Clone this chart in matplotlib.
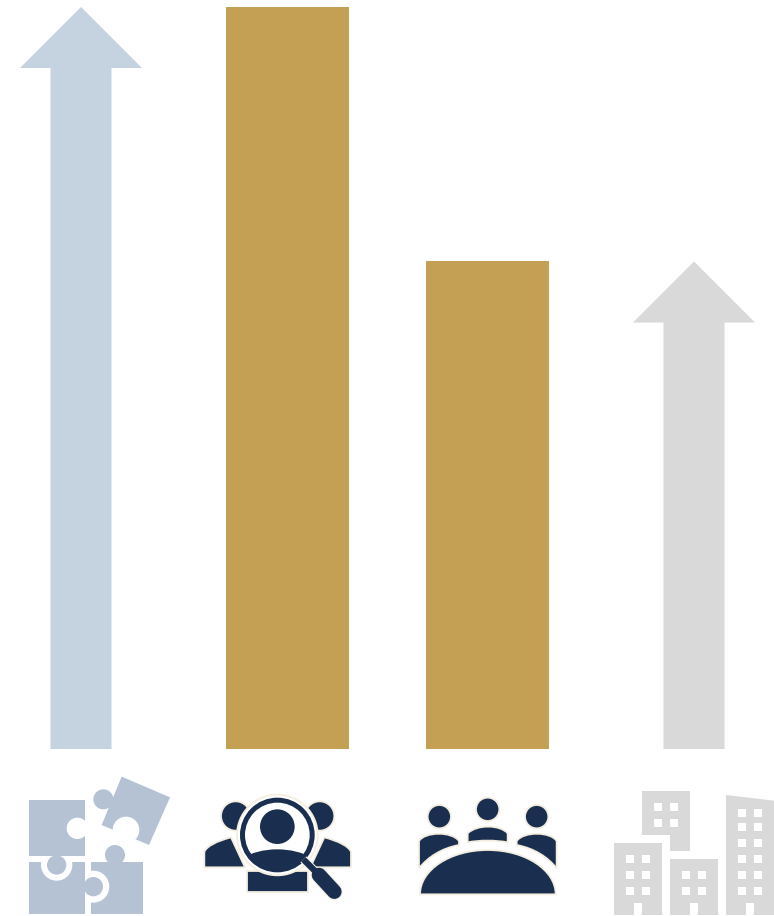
import matplotlib
matplotlib.use("Agg")
import matplotlib.pyplot as plt
from matplotlib.patches import Polygon, Circle, PathPatch, Rectangle, Ellipse
from matplotlib.path import Path
from matplotlib.transforms import Affine2D

W, H = 774, 916

# Chart values, as a share of the tallest column
categories = ["Integration", "Research", "Meetings", "Organisations"]
values = [100, 100, 65.8, 65.7]
kinds = ["arrow", "bar", "bar", "arrow"]
centers = [81, 287.5, 487.5, 694]
colors = ["#C5D2E0", "#C4A055", "#C4A055", "#D9D9D9"]

BAR_W = 123
SHAFT_W = 61
HEAD_W = 122
HEAD_H = 61 / 7.42  # head length in value units

NAVY = "#1A2F4F"
CREAM = "#F4EEE0"
SLATE = "#B4C2D3"
GREY = "#D9D9D9"

fig = plt.figure(figsize=(W / 100, H / 100), dpi=100, facecolor="white")

# Columns and arrows share one value axis
ax = fig.add_axes([0, (H - 749) / H, 1, 742 / H])
ax.set_xlim(0, W)
ax.set_ylim(0, 100)
ax.axis("off")

for c, v, k, col in zip(centers, values, kinds, colors):
    if k == "bar":
        ax.bar(c, v, width=BAR_W, color=col, linewidth=0, clip_on=False)
    else:
        ax.add_patch(Polygon(
            [(c - SHAFT_W / 2, 0), (c - SHAFT_W / 2, v - HEAD_H),
             (c - HEAD_W / 2, v - HEAD_H), (c, v),
             (c + HEAD_W / 2, v - HEAD_H), (c + SHAFT_W / 2, v - HEAD_H),
             (c + SHAFT_W / 2, 0)],
            closed=True, facecolor=col, edgecolor="none", clip_on=False))

# Icon layer: each pictogram is drawn in its own local grid of 3 units per pixel
icons = fig.add_axes([0, 0, 1, 1], zorder=3)
icons.set_xlim(0, W)
icons.set_ylim(H, 0)
icons.axis("off")


def grid(ox, oy):
    return Affine2D().scale(1 / 3).translate(ox, oy) + icons.transData


def rect(tr, x0, y0, x1, y1, color, **kw):
    icons.add_patch(Rectangle((x0, y0), x1 - x0, y1 - y0, facecolor=color,
                              edgecolor="none", transform=tr, clip_on=False, **kw))


def disc(tr, x, y, r, color, edge="none", lw=0):
    p = Circle((x, y), r, facecolor=color, edgecolor=edge, linewidth=lw,
               transform=tr, clip_on=False)
    icons.add_patch(p)
    return p


def shape(tr, verts, codes, color=NAVY, edge=CREAM, lw=1.3):
    p = PathPatch(Path(verts, codes), facecolor=color, edgecolor=edge, linewidth=lw,
                  transform=tr, clip_on=False)
    icons.add_patch(p)
    return p


def stroke(tr, pts, width, color=NAVY, cap="round"):
    xs, ys = zip(*pts)
    icons.plot(xs, ys, color=color, linewidth=width, solid_capstyle=cap,
               transform=tr, clip_on=False)


M, L, C3, C4, Z = Path.MOVETO, Path.LINETO, Path.CURVE3, Path.CURVE4, Path.CLOSEPOLY

# Puzzle pieces
t = grid(0, 760)
rect(t, 273, 307, 430, 462, SLATE)
disc(t, 280, 380, 48, "white")
rect(t, 87, 307, 255, 462, SLATE)
disc(t, 170, 315, 47, "white")
rect(t, 87, 120, 255, 288, SLATE)
disc(t, 232, 205, 32, "white")
disc(t, 170, 315, 29, SLATE)
disc(t, 280, 380, 29, SLATE)
disc(t, 345, 285, 30, SLATE)
icons.add_patch(Polygon([(365, 50), (510, 112), (447, 255), (305, 195)], closed=True,
                        facecolor=SLATE, edgecolor="none", transform=t, clip_on=False))
disc(t, 310, 118, 30, SLATE)
disc(t, 378, 210, 40, "white")

# People under a magnifying glass
t = grid(195, 780)
for mirror in (False, True):
    f = (lambda x: 496 - x) if mirror else (lambda x: x)
    disc(t, f(122), 108, 44, NAVY, CREAM, 1.3)
    shape(t, [(f(28), 262), (f(28), 215), (f(40), 190), (f(108), 172), (f(150), 262), (f(28), 262)],
          [M, L, C3, C3, L, Z])
shape(t, [(155, 335), (155, 272), (340, 272), (340, 335), (155, 335)], [M, L, L, L, Z])
disc(t, 247, 165, 121, "white", CREAM, 1.3)
stroke(t, [(372, 285), (418, 335)], 12.0, CREAM)
stroke(t, [(325, 238), (372, 285)], 6.0, CREAM, "butt")
stroke(t, [(325, 238), (372, 285)], 4.5, NAVY, "butt")
stroke(t, [(372, 285), (418, 335)], 10.5, NAVY)
disc(t, 247, 165, 112, NAVY)
disc(t, 247, 165, 97, "white")
disc(t, 247, 140, 52, NAVY)
lens = Circle((247, 165), 99, transform=t)
body = Ellipse((247, 300), 300, 184, facecolor=NAVY, edgecolor="none", transform=t)
icons.add_patch(body)
body.set_clip_path(lens)

# Three people round a table
t = grid(405, 785)
for x, y in [(103, 95), (248, 73), (395, 95)]:
    disc(t, x, y, 35, NAVY, CREAM, 1.3)
shape(t, [(188, 172), (188, 145), (215, 118), (285, 118), (308, 145), (308, 172),
          (270, 165), (225, 165), (188, 172), (188, 172)],
      [M, L, C4, C4, C4, L, C4, C4, C4, Z])
shape(t, [(42, 250), (42, 168), (60, 140), (140, 138), (162, 168), (162, 180),
          (110, 190), (70, 215), (42, 250), (42, 250)],
      [M, L, C4, C4, C4, L, C4, C4, C4, Z])
shape(t, [(455, 250), (455, 168), (437, 140), (357, 138), (335, 168), (335, 180),
          (387, 190), (427, 215), (455, 250), (455, 250)],
      [M, L, C4, C4, C4, L, C4, C4, C4, Z])
shape(t, [(45, 328), (45, 255), (135, 195), (248, 195), (361, 195), (452, 255),
          (452, 328), (45, 328)],
      [M, C4, C4, C4, C4, C4, C4, Z])

# City blocks with windows and doors
t = grid(604, 780)
icons.add_patch(Polygon([(114, 33), (258, 33), (258, 212), (198, 212), (198, 165), (114, 165)],
                        closed=True, facecolor=GREY, edgecolor="none", transform=t, clip_on=False))
rect(t, 30, 188, 174, 405, GREY)
rect(t, 198, 236, 342, 405, GREY)
icons.add_patch(Polygon([(366, 45), (510, 62), (510, 405), (366, 405)], closed=True,
                        facecolor=GREY, edgecolor="none", transform=t, clip_on=False))
window_sets = [((150, 198), (68, 116)),
               ((66, 114), (224, 272, 320)),
               ((234, 282), (272, 320)),
               ((402, 450), (86, 130, 178, 225, 272, 320))]
for xs, ys in window_sets:
    for x in xs:
        for y in ys:
            rect(t, x, y, x + 24, y + 24, "white")
for x in (90, 258, 426):
    rect(t, x, 368, x + 24, 405, "white")

fig.savefig("out.png", dpi=100, facecolor="white")
